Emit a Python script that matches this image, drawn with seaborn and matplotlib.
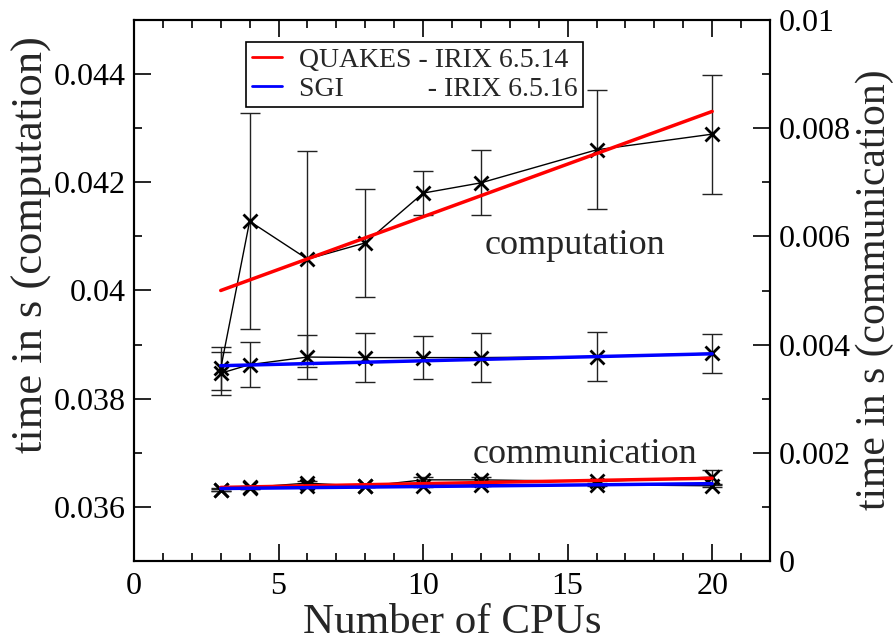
import numpy as np
import pandas as pd
import matplotlib
matplotlib.use('Agg')
import matplotlib.pyplot as plt
import seaborn as sns
from matplotlib.ticker import MultipleLocator, FuncFormatter
from matplotlib.lines import Line2D

# ---------------- data ----------------
cpus = [3, 4, 6, 8, 10, 12, 16, 20]

quakes_comp = [0.03856, 0.04128, 0.04058, 0.04088, 0.04180, 0.04199, 0.04260, 0.04289]
quakes_comp_err = [0.00040, 0.00200, 0.00200, 0.00100, 0.00040, 0.00060, 0.00110, 0.00110]
sgi_comp = [0.03847, 0.03863, 0.03877, 0.03876, 0.03876, 0.03876, 0.03878, 0.03884]
sgi_comp_err = [0.00040, 0.00042, 0.00040, 0.00045, 0.00040, 0.00045, 0.00045, 0.00036]

quakes_comm = [0.00132, 0.00136, 0.00144, 0.00138, 0.00150, 0.00150, 0.00147, 0.00155]
quakes_comm_err = [0.00003, 0.00003, 0.00004, 0.00002, 0.00005, 0.00005, 0.00003, 0.00013]
sgi_comm = [0.00132, 0.00135, 0.00138, 0.00138, 0.00138, 0.00141, 0.00141, 0.00139]
sgi_comm_err = [0.00002, 0.00002, 0.00002, 0.00002, 0.00002, 0.00002, 0.00002, 0.00002]

fit_x = [3, 20]
quakes_comp_fit = [0.04000, 0.04331]
sgi_comp_fit = [0.03861, 0.03883]
quakes_comm_fit = [0.00136, 0.00153]
sgi_comm_fit = [0.00134, 0.00143]

legend_labels = ["QUAKES - IRIX 6.5.14", "SGI            - IRIX 6.5.16"]

# ---------------- style ----------------
sns.set_theme(style="ticks")
plt.rcParams['font.family'] = ['Liberation Serif', 'DejaVu Serif']

fig = plt.figure(figsize=(8.94, 6.42), dpi=100)
ax = fig.add_axes([134/894, 1-561/642, (770-134)/894, (561-20)/642])
ax2 = ax.twinx()

def fmt(v, pos):
    return f"{v:.3f}".rstrip('0').rstrip('.')

err_kw = dict(fmt='none', ecolor='#222222', elinewidth=1.0, capsize=7, capthick=1.0)
mk_kw = dict(color='black', lw=1.0, marker='x', markersize=10,
             markeredgewidth=2, markeredgecolor='black')

# computation (left axis)
ax.errorbar(cpus, quakes_comp, yerr=quakes_comp_err, zorder=2, **err_kw)
ax.errorbar(cpus, sgi_comp, yerr=sgi_comp_err, zorder=2, **err_kw)
sns.lineplot(x=cpus, y=quakes_comp, ax=ax, zorder=3, **mk_kw)
sns.lineplot(x=cpus, y=sgi_comp, ax=ax, zorder=3, **mk_kw)
sns.lineplot(x=fit_x, y=quakes_comp_fit, ax=ax, color='#ff0000', lw=2.5, zorder=4)
sns.lineplot(x=fit_x, y=sgi_comp_fit, ax=ax, color='#0000ff', lw=2.5, zorder=4)

# communication (right axis)
ax2.errorbar(cpus, quakes_comm, yerr=quakes_comm_err, zorder=2, **err_kw)
ax2.errorbar(cpus, sgi_comm, yerr=sgi_comm_err, zorder=2, **err_kw)
sns.lineplot(x=cpus, y=quakes_comm, ax=ax2, zorder=3, **mk_kw)
sns.lineplot(x=cpus, y=sgi_comm, ax=ax2, zorder=3, **mk_kw)
sns.lineplot(x=fit_x, y=quakes_comm_fit, ax=ax2, color='#ff0000', lw=2.5, zorder=4)
sns.lineplot(x=fit_x, y=sgi_comm_fit, ax=ax2, color='#0000ff', lw=2.5, zorder=4)

# axes ranges and ticks
ax.set_xlim(0, 22)
ax.set_ylim(0.035, 0.045)
ax2.set_ylim(0, 0.01)

ax.xaxis.set_major_locator(MultipleLocator(5))
ax.xaxis.set_minor_locator(MultipleLocator(1))
ax.yaxis.set_major_locator(MultipleLocator(0.002))
ax.yaxis.set_minor_locator(MultipleLocator(0.001))
ax2.yaxis.set_major_locator(MultipleLocator(0.002))
ax2.yaxis.set_minor_locator(MultipleLocator(0.001))
ax.yaxis.set_major_formatter(FuncFormatter(fmt))
ax2.yaxis.set_major_formatter(FuncFormatter(fmt))

ax.tick_params(axis='x', which='both', direction='in', top=True, bottom=True,
               labelsize=23, pad=8, colors='black')
ax.tick_params(axis='y', which='both', direction='in', left=True, right=False,
               labelsize=23, pad=6, colors='black')
ax2.tick_params(axis='y', which='both', direction='in', right=True, left=False,
                labelsize=23, pad=6, colors='black')
for a in (ax, ax2):
    a.tick_params(which='major', length=12, width=1.2)
    a.tick_params(which='minor', length=6, width=1.2)
    for sp in a.spines.values():
        sp.set_color('black')
        sp.set_linewidth(1.5)
        sp.set_visible(True)

ax.set_xlabel("Number of CPUs", fontsize=31, labelpad=2)
ax.set_ylabel("time in s (computation)", fontsize=32)
ax.yaxis.set_label_coords((52-134)/636, 1-(245-20)/541)
ax2.set_ylabel("time in s (communication)", fontsize=30, rotation=90)
ax2.yaxis.set_label_coords((856-134)/636, 1-(290-20)/541)

ax.text(15.25, 0.04084, "computation", fontsize=26, ha='center', va='center')
ax.text(15.6, 0.03697, "communication", fontsize=26, ha='center', va='center')

handles = [Line2D([], [], color='#ff0000', lw=2), Line2D([], [], color='#0000ff', lw=2)]
leg = ax2.legend(handles, legend_labels, loc='upper left',
                 bbox_to_anchor=((246-134)/636, 1-(42-20)/541),
                 fontsize=20, frameon=True, fancybox=False, framealpha=1,
                 edgecolor='black', handlelength=1.1, handletextpad=0.6,
                 borderpad=0.2, labelspacing=0.12, borderaxespad=0)
leg.get_frame().set_linewidth(1.2)

fig.savefig("out.png", dpi=100)
